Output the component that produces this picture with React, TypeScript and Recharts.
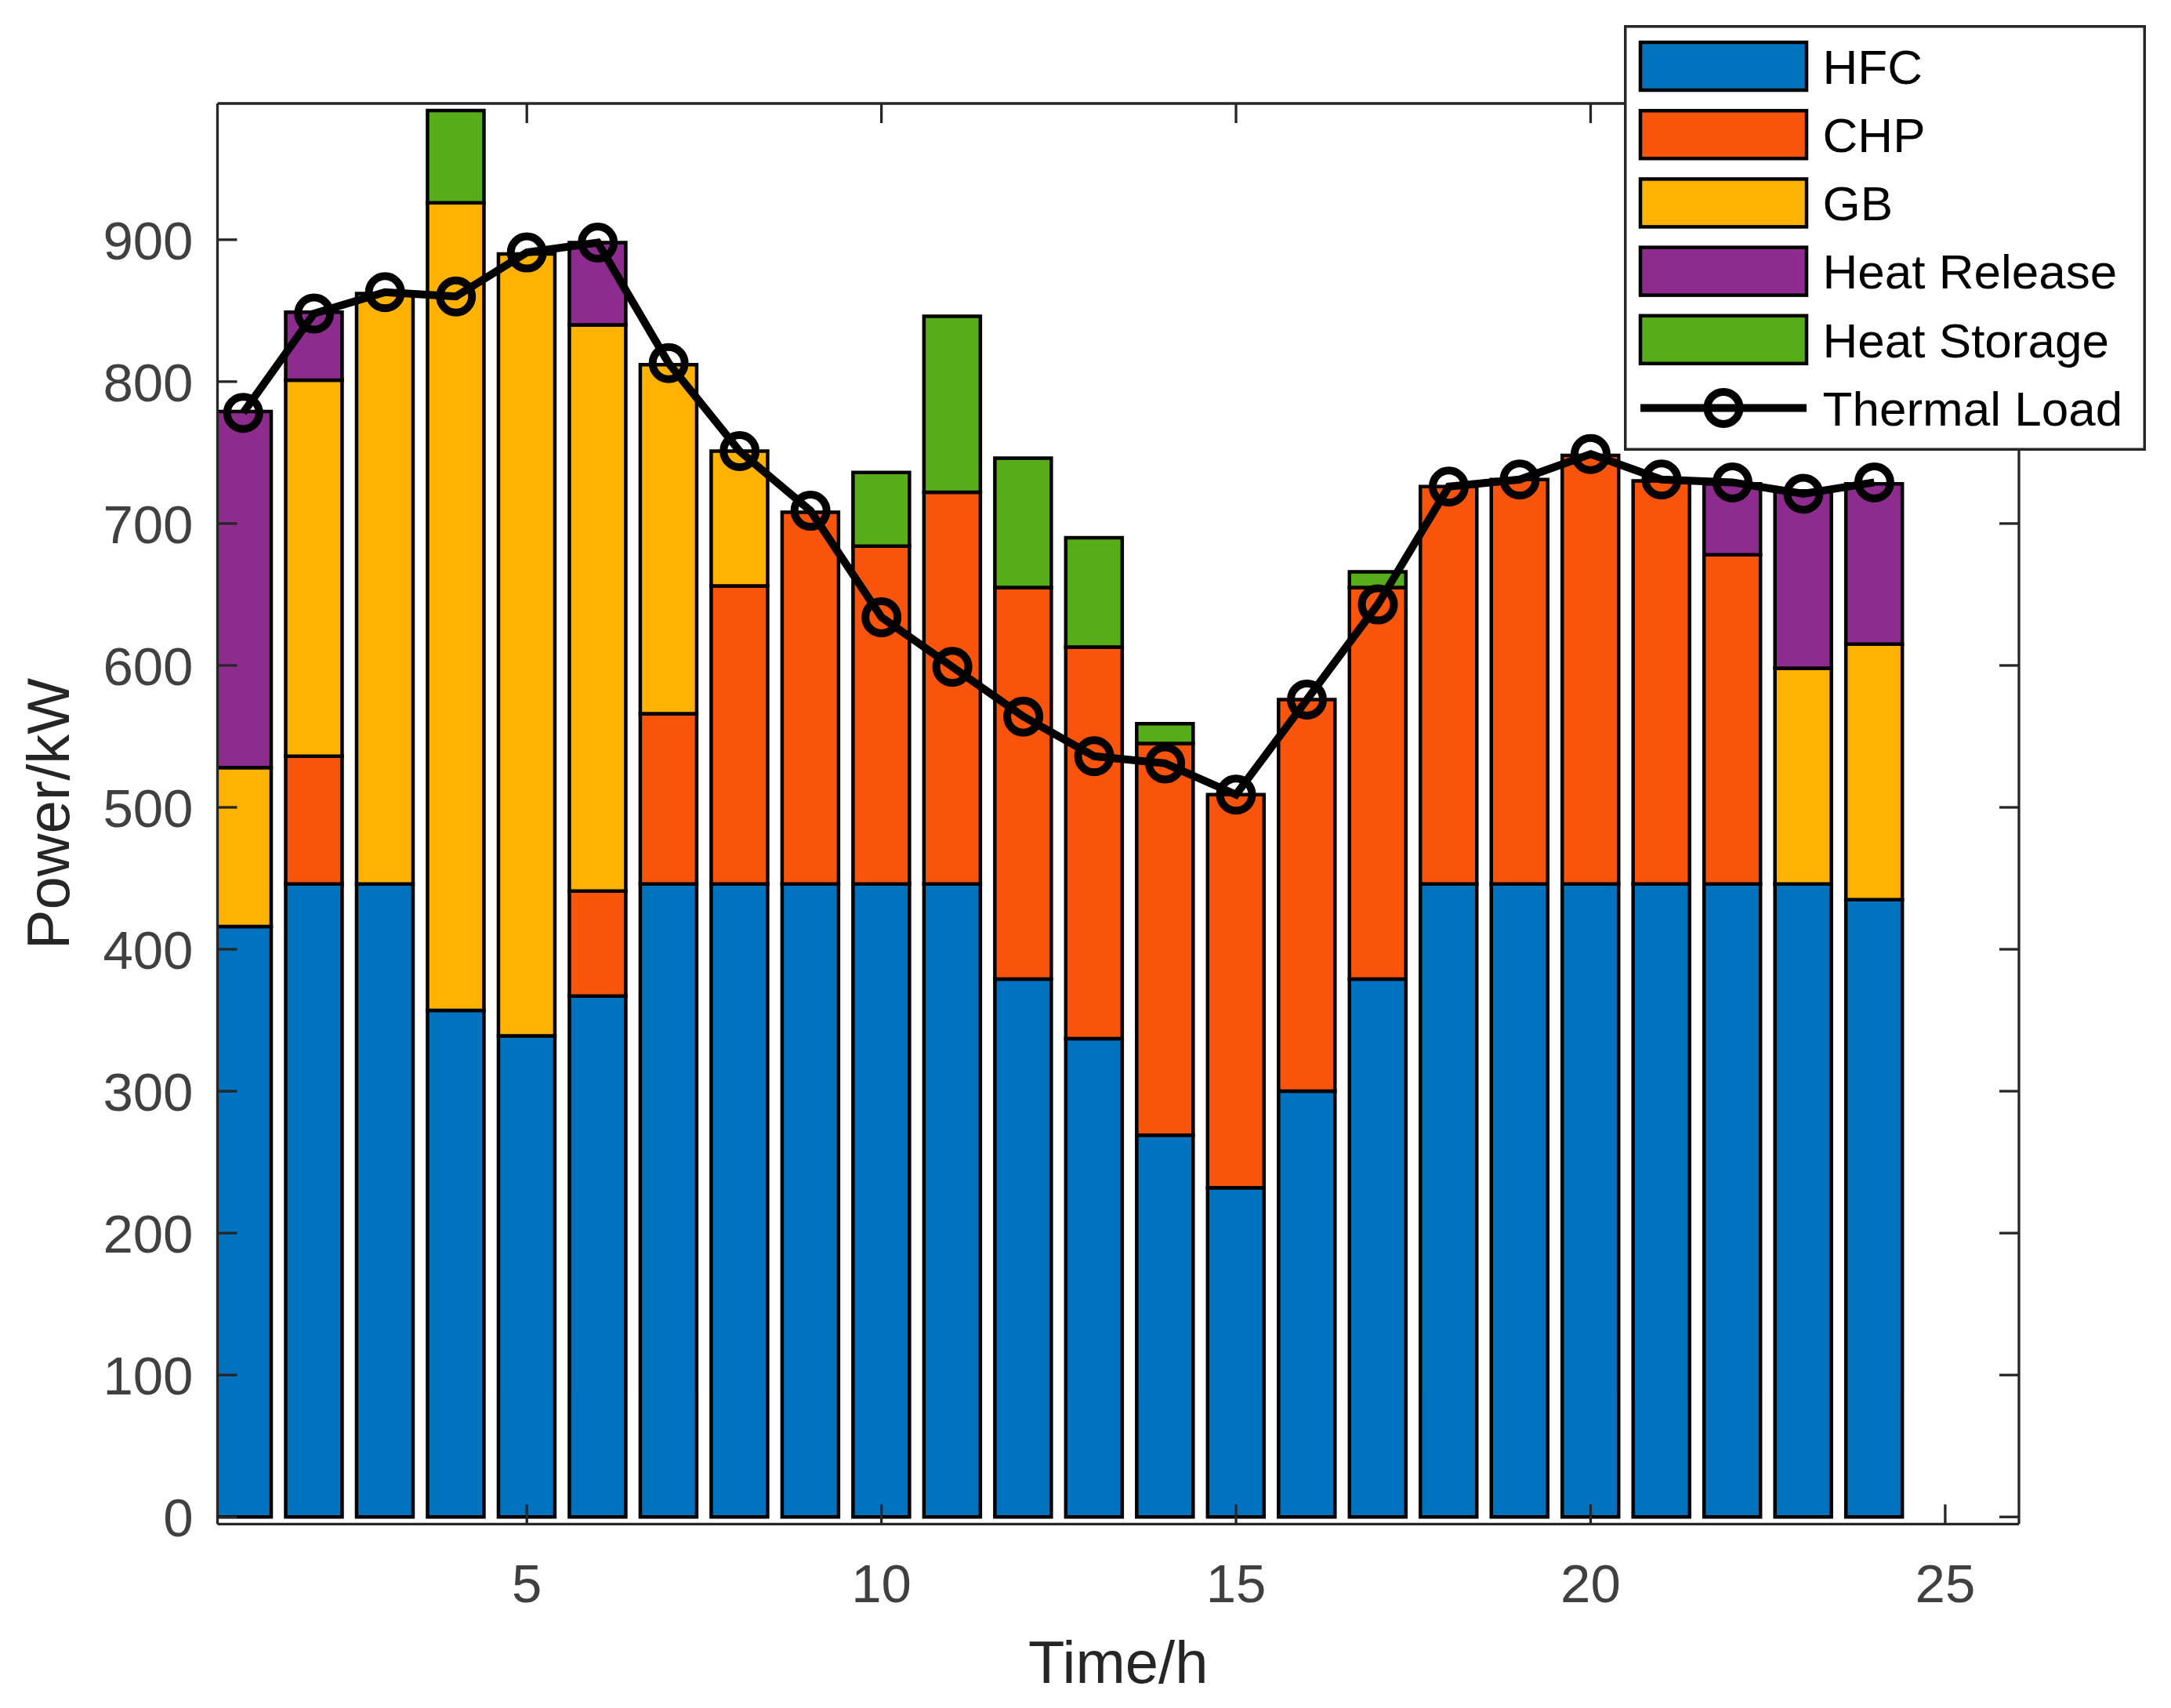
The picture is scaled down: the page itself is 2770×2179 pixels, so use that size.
import React from 'react';
import { ComposedChart, Bar, Line, XAxis, YAxis, Legend } from 'recharts';

const HOURS = [1, 2, 3, 4, 5, 6, 7, 8, 9, 10, 11, 12, 13, 14, 15, 16, 17, 18, 19, 20, 21, 22, 23, 24];
const HFC = [416, 446, 446, 357, 339, 367, 446, 446, 446, 446, 446, 379, 337, 269, 232, 300, 379, 446, 446, 446, 446, 446, 446, 435];
const CHP = [0, 90, 0, 0, 0, 74, 120, 210, 262, 238, 276, 276, 276, 276, 277, 276, 276, 280, 285, 302, 284, 232, 0, 0];
const GB = [112, 265, 416, 569, 551, 399, 246, 95, 0, 0, 0, 0, 0, 0, 0, 0, 0, 0, 0, 0, 0, 0, 152, 180];
const HEAT_RELEASE = [251, 48, 0, 0, 0, 58, 0, 0, 0, 0, 0, 0, 0, 0, 0, 0, 0, 0, 0, 0, 0, 50, 125, 113];
const HEAT_STORAGE = [0, 0, 0, 65, 0, 0, 0, 0, 0, 52, 124, 91, 77, 14, 0, 0, 11, 0, 0, 0, 0, 0, 0, 0];
const THERMAL_LOAD = [778, 848, 863, 860, 891, 898, 813, 751, 709, 634, 599, 564, 536, 531, 509, 576, 643, 726, 731, 749, 731, 729, 721, 729];

const X_TICKS = [5, 10, 15, 20, 25];
const Y_TICKS = [0, 100, 200, 300, 400, 500, 600, 700, 800, 900];
const X_DOMAIN = [0.638, 26.04];
const Y_DOMAIN = [-5, 996];

const SERIES_KEYS = ['HFC', 'CHP', 'GB', 'HR', 'HS'];
const SERIES_NAMES = ['HFC', 'CHP', 'GB', 'Heat Release', 'Heat Storage'];
const SERIES_COLORS = ['#0072BE', '#F9540C', '#FFB200', '#8E2B8E', '#57AD17'];
const LINE_NAME = 'Thermal Load';

const rows = HOURS.map((t, i) => ({
  t,
  HFC: HFC[i],
  CHP: CHP[i],
  GB: GB[i],
  HR: HEAT_RELEASE[i],
  HS: HEAT_STORAGE[i],
  load: THERMAL_LOAD[i],
}));

const FONT = '"Liberation Sans", Arial, Helvetica, sans-serif';
const AX = '#262626';
const AXW = 3.3;
const TICK_LEN = 25;
const TICK_FS = 69;

const BottomTick = (props: any) => {
  const { x, y, payload } = props;
  return (
    <g>
      <line x1={x} x2={x} y1={y} y2={y - TICK_LEN} stroke={AX} strokeWidth={AXW} />
      <text x={x} y={y + 100} textAnchor="middle" fontSize={TICK_FS} fontFamily={FONT} fill="#404040">
        {payload.value}
      </text>
    </g>
  );
};

const TopTick = (props: any) => {
  const { x, y } = props;
  return <line x1={x} x2={x} y1={y} y2={y + TICK_LEN} stroke={AX} strokeWidth={AXW} />;
};

const LeftTick = (props: any) => {
  const { x, y, payload } = props;
  return (
    <g>
      <line x1={x} x2={x + TICK_LEN} y1={y} y2={y} stroke={AX} strokeWidth={AXW} />
      <text x={x - 31} y={y + 24.7} textAnchor="end" fontSize={TICK_FS} fontFamily={FONT} fill="#404040">
        {payload.value}
      </text>
    </g>
  );
};

const RightTick = (props: any) => {
  const { x, y } = props;
  return <line x1={x} x2={x - TICK_LEN} y1={y} y2={y} stroke={AX} strokeWidth={AXW} />;
};

const XTitle = (props: any) => {
  const vb = props && props.viewBox && props.viewBox.width ? props.viewBox : { x: 269.5, y: 1936.3, width: 2298.5, height: 220 };
  return (
    <text x={vb.x + vb.width / 2} y={vb.y + 203} textAnchor="middle" fontSize={76} fontFamily={FONT} fill="#262626">
      Time/h
    </text>
  );
};

const YTitle = (props: any) => {
  const vb = props && props.viewBox && props.viewBox.height ? props.viewBox : { x: 0, y: 124, width: 269.5, height: 1812.3 };
  const cx = vb.x + 80;
  const cy = vb.y + vb.height / 2;
  return (
    <text x={cx} y={cy} transform={`rotate(-90 ${cx} ${cy})`} textAnchor="middle" fontSize={76} fontFamily={FONT} fill="#262626">
      Power/kW
    </text>
  );
};

const LegendBox = () => {
  const rowTops = [20, 107.2, 194.4, 281.6, 368.8];
  return (
    <svg width={666} height={543} style={{ display: 'block' }}>
      <rect x={1.75} y={1.75} width={662.5} height={539.5} fill="#fff" stroke={AX} strokeWidth={3.5} />
      {SERIES_NAMES.map((name, i) => (
        <g key={name}>
          <rect x={21} y={rowTops[i] + 2} width={212} height={61} fill={SERIES_COLORS[i]} stroke="#000" strokeWidth={4.5} />
          <text x={253.6} y={rowTops[i] + 32.5 + 22.2} fontSize={62} fontFamily={FONT} fill="#000">
            {name}
          </text>
        </g>
      ))}
      <line x1={21} x2={233} y1={488.4} y2={488.4} stroke="#000" strokeWidth={10} />
      <circle cx={127} cy={488.4} r={20.5} fill="none" stroke="#000" strokeWidth={10} />
      <text x={253.6} y={488.4 + 22.2} fontSize={62} fontFamily={FONT} fill="#000">
        {LINE_NAME}
      </text>
    </svg>
  );
};

export default function App() {
  return (
    <div style={{ width: 2754, height: 2163, fontFamily: FONT, background: '#fff' }}>
      <ComposedChart
        width={2754}
        height={2163}
        data={rows}
        margin={{ top: 122, right: 184, bottom: 6.7, left: 0 }}
      >
        <XAxis
          dataKey="t"
          type="number"
          domain={X_DOMAIN}
          allowDataOverflow
          ticks={X_TICKS}
          interval={0}
          height={220}
          tickSize={0}
          tickMargin={0}
          tickLine={false}
          axisLine={{ stroke: AX, strokeWidth: AXW }}
          tick={<BottomTick />}
          label={{ value: 'Time/h', content: <XTitle /> }}
        />
        <XAxis
          xAxisId="top"
          dataKey="t"
          orientation="top"
          type="number"
          domain={X_DOMAIN}
          allowDataOverflow
          ticks={X_TICKS}
          interval={0}
          height={2}
          tickSize={0}
          tickMargin={0}
          tickLine={false}
          axisLine={{ stroke: AX, strokeWidth: AXW }}
          tick={<TopTick />}
        />
        <YAxis
          type="number"
          domain={Y_DOMAIN}
          allowDataOverflow
          ticks={Y_TICKS}
          interval={0}
          width={269.5}
          tickSize={0}
          tickMargin={0}
          tickLine={false}
          axisLine={{ stroke: AX, strokeWidth: AXW }}
          tick={<LeftTick />}
          label={{ value: 'Power/kW', content: <YTitle /> }}
        />
        <YAxis
          yAxisId="right"
          orientation="right"
          type="number"
          domain={Y_DOMAIN}
          allowDataOverflow
          ticks={Y_TICKS}
          interval={0}
          width={2}
          tickSize={0}
          tickMargin={0}
          tickLine={false}
          axisLine={{ stroke: AX, strokeWidth: AXW }}
          tick={<RightTick />}
        />
        {SERIES_KEYS.map((k, i) => (
          <Bar
            key={k}
            dataKey={k}
            name={SERIES_NAMES[i]}
            stackId="heat"
            fill={SERIES_COLORS[i]}
            stroke="#000"
            strokeWidth={4.5}
            barSize={72}
            isAnimationActive={false}
          />
        ))}
        <Line
          dataKey="load"
          name={LINE_NAME}
          stroke="#000"
          strokeWidth={10}
          dot={{ r: 20.5, stroke: '#000', strokeWidth: 10, fill: 'none' }}
          activeDot={false}
          isAnimationActive={false}
        />
        <Legend
          layout="horizontal"
          verticalAlign="middle"
          align="center"
          content={<LegendBox />}
          wrapperStyle={{ position: 'absolute', left: 2064, top: 24, width: 666, height: 543, margin: 0, padding: 0 }}
        />
      </ComposedChart>
    </div>
  );
}
